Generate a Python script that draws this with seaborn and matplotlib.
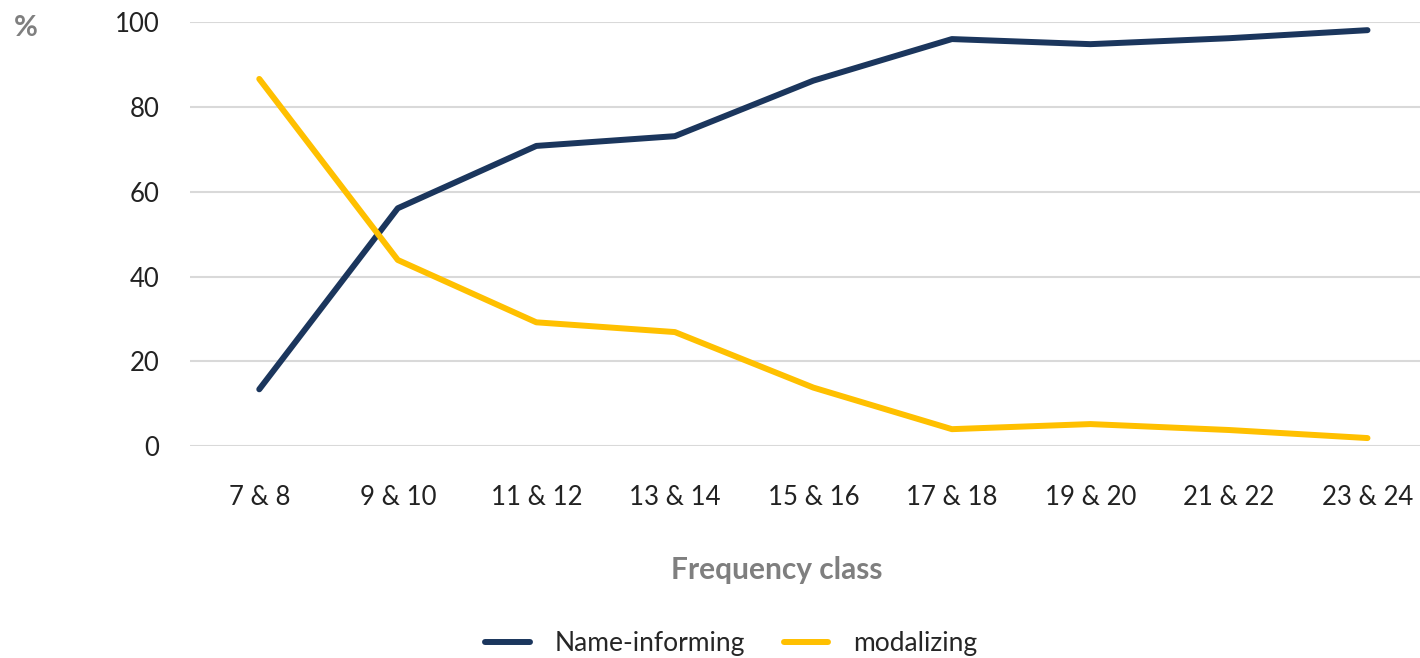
import pandas as pd
import matplotlib
matplotlib.use("Agg")
import matplotlib.pyplot as plt
import seaborn as sns

# Les données
classes = ["7 & 8", "9 & 10", "11 & 12", "13 & 14", "15 & 16",
           "17 & 18", "19 & 20", "21 & 22", "23 & 24"]
name_informing = [13.4, 56.1, 70.8, 73.1, 86.2, 96.0, 94.8, 96.2, 98.1]
modalizing = [86.6, 43.9, 29.2, 26.9, 13.8, 4.0, 5.2, 3.8, 1.9]

couleurs = {"Name-informing": "#1b365d", "modalizing": "#ffc000"}

# Format long pour seaborn
df = pd.DataFrame({
    "classe": classes * 2,
    "valeur": name_informing + modalizing,
    "serie": ["Name-informing"] * len(classes) + ["modalizing"] * len(classes),
})

sns.set_style("white")
plt.rcParams['font.family'] = ['Lato', 'DejaVu Sans']

fig = plt.figure(figsize=(14.2, 6.58), dpi=100)
ax = fig.add_axes([0.1338, 0.322, 0.878, 0.6444])

sns.lineplot(data=df, x="classe", y="valeur", hue="serie", palette=couleurs,
             linewidth=4.3, ax=ax, legend=False, sort=False)

ax.set_xlim(-0.5, len(classes) - 0.5)
ax.set_ylim(0, 100)
ax.set_yticks([0, 20, 40, 60, 80, 100])
ax.grid(axis="y", color="#d9d9d9", linewidth=1.5)
ax.set_axisbelow(True)
for s in ax.spines.values():
    s.set_visible(False)
ax.tick_params(axis="both", length=0, labelsize=18.5, colors="#222222")
ax.tick_params(axis="x", pad=28)
ax.tick_params(axis="y", pad=22)

ax.set_xlabel("Frequency class", fontsize=21.5, fontweight="bold", color="#7f7f7f")
ax.xaxis.set_label_coords(0.4707, -0.26)
ax.set_ylabel("")
fig.text(0.010, 0.958, "%", fontsize=21, fontweight="bold", color="#7f7f7f", va="center")

# Légende en bas
handles = [plt.Line2D([0], [0], color=couleurs[k], linewidth=4.3) for k in couleurs]
fig.legend(handles, list(couleurs.keys()), loc="center", bbox_to_anchor=(0.515, 0.022),
           ncol=2, frameon=False, fontsize=19, handlelength=1.7, columnspacing=1.45,
           handletextpad=0.95)

fig.savefig("out.png", dpi=100)
